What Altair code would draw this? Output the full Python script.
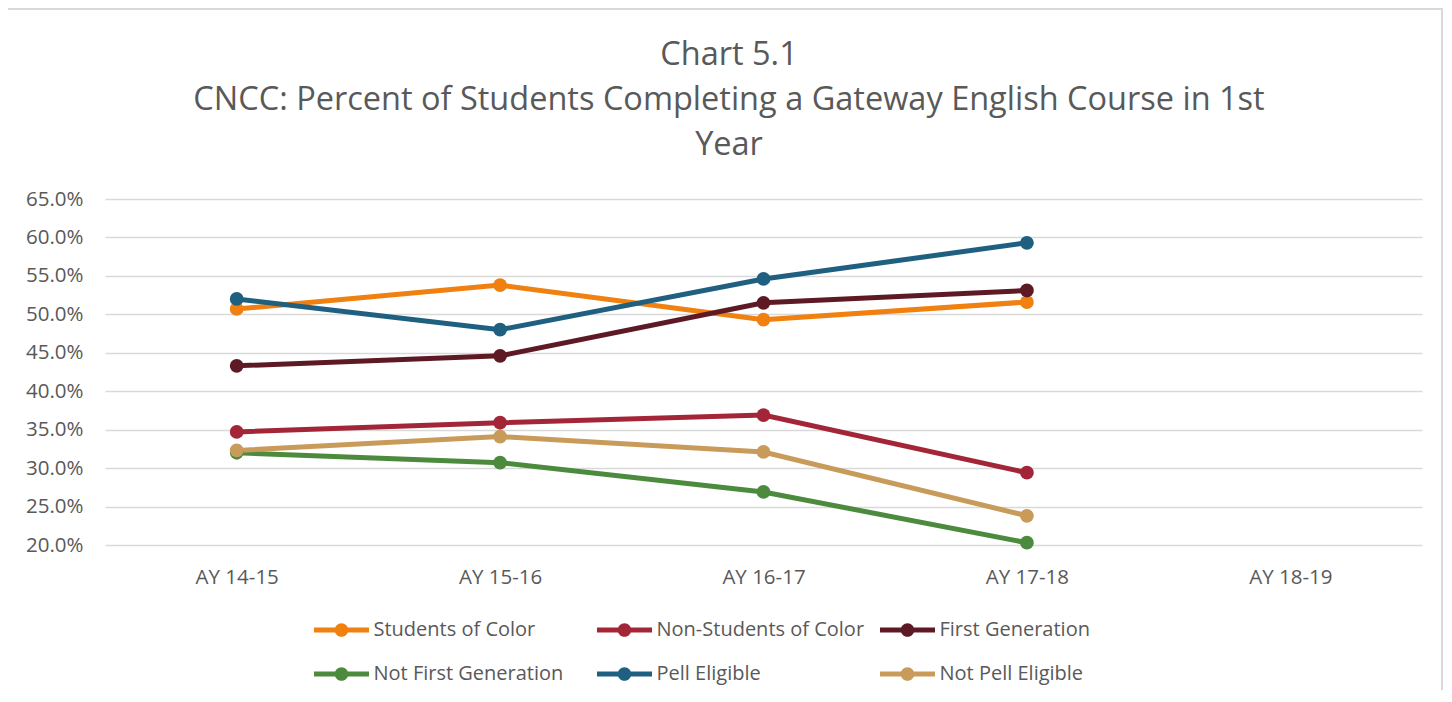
import altair as alt
import pandas as pd

years = ["AY 14-15", "AY 15-16", "AY 16-17", "AY 17-18", "AY 18-19"]
series_names = ["Students of Color", "Non-Students of Color", "First Generation",
                "Not First Generation", "Pell Eligible", "Not Pell Eligible"]
students_of_color = [50.7, 53.8, 49.3, 51.6]
non_students_of_color = [34.7, 35.9, 36.9, 29.4]
first_generation = [43.3, 44.6, 51.5, 53.1]
not_first_generation = [32.0, 30.7, 26.9, 20.3]
pell_eligible = [52.0, 48.0, 54.6, 59.3]
not_pell_eligible = [32.3, 34.1, 32.1, 23.8]
colors = ["#F08010", "#A32638", "#5E1A24", "#4C8A3E", "#1F5F80", "#C89B5A"]
title_lines = ["Chart 5.1", "CNCC: Percent of Students Completing a Gateway English Course in 1st", "Year"]

values = [students_of_color, non_students_of_color, first_generation,
          not_first_generation, pell_eligible, not_pell_eligible]
rows = []
for name, vals in zip(series_names, values):
    for yr, v in zip(years, vals):
        rows.append({"Year": yr, "Series": name, "Value": v / 100})
df = pd.DataFrame(rows)

legend_df = pd.DataFrame({
    "Series": series_names,
    "col": [i % 3 for i in range(len(series_names))],
    "row": [i // 3 for i in range(len(series_names))],
})

W, H = 1317, 346
FONT = "Open Sans"
GRAY = "#595959"
color_scale = alt.Scale(domain=series_names, range=colors)

x_scale = alt.Scale(type="point", domain=years, padding=0.5)
y_scale = alt.Scale(domain=[0.20, 0.65], nice=False, zero=False)

x_axis = alt.Axis(title=None, labelFontSize=20.5, labelColor=GRAY, labelFont=FONT,
                  domain=False, ticks=False, labelPadding=22, labelAngle=0, grid=False)
y_axis = alt.Axis(title=None, format=".1%", values=[0.2, 0.25, 0.3, 0.35, 0.4, 0.45, 0.5, 0.55, 0.6, 0.65],
                  labelFontSize=20.5, labelColor=GRAY, labelFont=FONT, domain=False,
                  ticks=False, labelPadding=22, gridColor="#d9d9d9", gridWidth=1.5)

lines = alt.Chart(df).mark_line(strokeWidth=5).encode(
    x=alt.X("Year:N", scale=x_scale, axis=x_axis),
    y=alt.Y("Value:Q", scale=y_scale, axis=y_axis),
    stroke=alt.Stroke("Series:N", scale=color_scale, legend=None),
    detail="Series:N",
)

points = alt.Chart(df).mark_point(filled=True, size=190, opacity=1).encode(
    x=alt.X("Year:N", scale=x_scale, axis=None),
    y=alt.Y("Value:Q", scale=y_scale, axis=None),
    fill=alt.Fill("Series:N", scale=color_scale, legend=None),
)

legend_symbol = ("M-2.75,-0.25L2.75,-0.25L2.75,0.25L-2.75,0.25Z "
                 "M0.68,0A0.68,0.68,0,1,1,-0.68,0A0.68,0.68,0,1,1,0.68,0Z")
lx = alt.X("col:Q", scale=alt.Scale(domain=[0, 2], range=[236.5, 802.5]), axis=None)
ly = alt.Y("row:Q", scale=alt.Scale(domain=[0, 1], range=[431, 475]), axis=None)

legend_sym = alt.Chart(legend_df).mark_point(shape=legend_symbol, size=400, filled=True,
                                             opacity=1, strokeWidth=0).encode(
    x=lx, y=ly, fill=alt.Fill("Series:N", scale=color_scale, legend=None),
)
legend_txt = alt.Chart(legend_df).mark_text(align="left", baseline="middle", dx=32, fontSize=20,
                                            font=FONT, color=GRAY).encode(
    x=lx, y=ly, text="Series:N",
)

border = alt.Chart(df).mark_rect(fill=None, stroke="#d9d9d9", strokeWidth=2, clip=False).encode(
    x=alt.value(-98), x2=alt.value(1337), y=alt.value(-190), y2=alt.value(540)
)

title_df = pd.DataFrame({"line": title_lines, "idx": [0, 1, 2]})
title_y = [-144, -99, -54]
title_layers = [
    alt.Chart(title_df).transform_filter(alt.datum.idx == i).mark_text(
        fontSize=32.5, font=FONT, color=GRAY, align="center", baseline="middle"
    ).encode(x=alt.value(624), y=alt.value(title_y[i]), text="line:N")
    for i in range(3)
]

chart = alt.layer(border, *title_layers, lines, points, legend_sym, legend_txt).properties(
    width=W, height=H,
    background="white",
    autosize=alt.AutoSizeParams(type="none"),
    padding={"left": 97, "top": 191, "right": 22, "bottom": 145},
).resolve_scale(x="independent", y="independent").configure_view(strokeWidth=0, stroke="transparent")

chart.save("out.html", embed_options={"renderer": "svg", "actions": False})
